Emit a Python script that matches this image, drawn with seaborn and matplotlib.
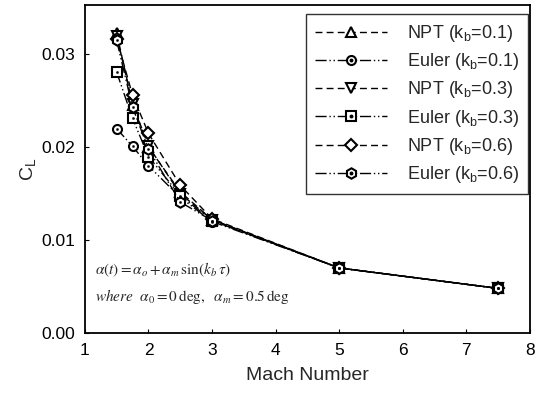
import matplotlib
matplotlib.use("Agg")
import matplotlib.pyplot as plt
import seaborn as sns
import pandas as pd
from matplotlib.legend_handler import HandlerTuple

mach = [1.5, 1.75, 2.0, 2.5, 3.0, 5.0, 7.5]
npt_01 = [0.0323, 0.0246, 0.0200, 0.0152, 0.0122, 0.0070, 0.0048]
euler_01 = [0.0220, 0.0201, 0.0180, 0.0146, 0.0120, 0.0070, 0.0048]
npt_03 = [0.0320, 0.0247, 0.0201, 0.0150, 0.0122, 0.0070, 0.0048]
euler_03 = [0.0281, 0.0231, 0.0190, 0.0148, 0.0121, 0.0070, 0.0048]
npt_06 = [0.0317, 0.0256, 0.0215, 0.0159, 0.0123, 0.0070, 0.0048]
euler_06 = [0.0315, 0.0243, 0.0198, 0.0141, 0.0121, 0.0070, 0.0048]

labels = ["NPT (k$_\\mathrm{b}$=0.1)", "Euler (k$_\\mathrm{b}$=0.1)",
          "NPT (k$_\\mathrm{b}$=0.3)", "Euler (k$_\\mathrm{b}$=0.3)",
          "NPT (k$_\\mathrm{b}$=0.6)", "Euler (k$_\\mathrm{b}$=0.6)"]
series = [npt_01, euler_01, npt_03, euler_03, npt_06, euler_06]
markers = ["^", "o", "v", "s", "D", "h"]
dotted = [False, True, False, True, False, True]
msizes = [6.5, 6.5, 6.5, 6.5, 6.5, 7.5]

sns.set_style("ticks")
plt.rcParams["font.family"] = ["Liberation Sans", "DejaVu Sans"]
plt.rcParams["mathtext.fontset"] = "custom"
plt.rcParams["mathtext.rm"] = "Liberation Sans"
plt.rcParams["mathtext.it"] = "Liberation Sans:italic"

fig = plt.figure(figsize=(5.37, 3.95), dpi=100)
ax = fig.add_axes([0.158, 0.157, 0.829, 0.830])

npt_ls = (0, (5, 3))
eul_ls = (0, (8, 2, 1, 2, 1, 2))

handles = []
for lab, vals, mk, dt, ms in zip(labels, series, markers, dotted, msizes):
    df = pd.DataFrame({"Mach": mach, "CL": vals})
    ls = eul_ls if dt else npt_ls
    sns.lineplot(data=df, x="Mach", y="CL", ax=ax, color="black", lw=1.0,
                 marker=mk, markersize=ms, markerfacecolor="white",
                 markeredgecolor="black", markeredgewidth=1.5, legend=False)
    line = ax.lines[-1]
    line.set_linestyle(ls)
    h = [line]
    if dt:
        sns.scatterplot(data=df, x="Mach", y="CL", ax=ax, color="black", s=3,
                        marker="o", edgecolor="black", legend=False, zorder=5)
        d, = ax.plot([], [], ls="none", marker="o", ms=1.8, color="black")
        h.append(d)
    handles.append(tuple(h))

ax.set_xlim(1, 8)
ax.set_ylim(0, 0.0353)
ax.set_xticks([1, 2, 3, 4, 5, 6, 7, 8])
ax.set_yticks([0.0, 0.01, 0.02, 0.03])
ax.set_yticklabels(["0.00", "0.01", "0.02", "0.03"])
ax.tick_params(direction="in", length=3, labelsize=12.5, colors="black", pad=7)
for s in ax.spines.values():
    s.set_linewidth(1.3)
    s.set_color("black")
ax.set_xlabel("Mach Number", fontsize=14, labelpad=7)
ax.set_ylabel("C$_\\mathrm{L}$", fontsize=14, labelpad=2)

leg = ax.legend(handles, labels, loc="upper right", bbox_to_anchor=(0.995, 0.973),
                frameon=True, fancybox=False,
                edgecolor="black", fontsize=13, handlelength=4.0, handletextpad=1.1,
                labelspacing=0.40, borderpad=0.5, borderaxespad=0.0, numpoints=1,
                handler_map={tuple: HandlerTuple(ndivide=1, pad=0)})
leg.get_frame().set_linewidth(1.0)

ax.text(0.022, 0.178, r"$\alpha(t) = \alpha_o + \alpha_m\,\sin(k_b\,\tau)$",
        transform=ax.transAxes, fontsize=11, math_fontfamily="stix")
ax.text(0.022, 0.098, r"$where\ \ \alpha_0 = 0\,\mathrm{deg},\ \ \alpha_m = 0.5\,\mathrm{deg}$",
        transform=ax.transAxes, fontsize=11, math_fontfamily="stix")

fig.savefig("out.png", dpi=100)
